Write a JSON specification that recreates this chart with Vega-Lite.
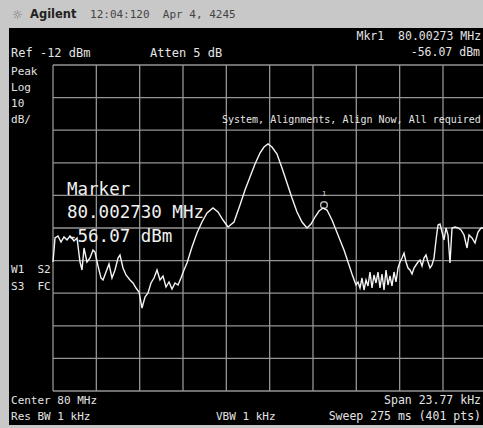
{
  "$schema": "https://vega.github.io/schema/vega-lite/v6.json",
  "width": 474,
  "height": 397,
  "autosize": {"type": "none"},
  "padding": {"left": 9, "top": 28, "right": 0, "bottom": 3},
  "background": "#c8c8c8",
  "config": {"view": {"fill": "#000000", "stroke": null}},
  "datasets": {
    "gridV": [
      {"f": -11.885, "top": -12, "bottom": -112},
      {"f": -9.508, "top": -12, "bottom": -112},
      {"f": -7.131, "top": -12, "bottom": -112},
      {"f": -4.754, "top": -12, "bottom": -112},
      {"f": -2.377, "top": -12, "bottom": -112},
      {"f": 0, "top": -12, "bottom": -112},
      {"f": 2.377, "top": -12, "bottom": -112},
      {"f": 4.754, "top": -12, "bottom": -112},
      {"f": 7.131, "top": -12, "bottom": -112},
      {"f": 9.508, "top": -12, "bottom": -112}
    ],
    "gridH": [
      {"d": -12, "left": -11.885, "right": 11.885},
      {"d": -22, "left": -11.885, "right": 11.885},
      {"d": -32, "left": -11.885, "right": 11.885},
      {"d": -42, "left": -11.885, "right": 11.885},
      {"d": -52, "left": -11.885, "right": 11.885},
      {"d": -62, "left": -11.885, "right": 11.885},
      {"d": -72, "left": -11.885, "right": 11.885},
      {"d": -82, "left": -11.885, "right": 11.885},
      {"d": -92, "left": -11.885, "right": 11.885},
      {"d": -102, "left": -11.885, "right": 11.885},
      {"d": -112, "left": -11.885, "right": 11.885}
    ],
    "trace": [
      {"f": -11.885, "d": -72.43}, {"f": -11.775, "d": -65.07}, {"f": -11.611, "d": -64.45}, {"f": -11.446, "d": -66.29},
      {"f": -11.282, "d": -64.76}, {"f": -11.117, "d": -65.68}, {"f": -10.952, "d": -64.45}, {"f": -10.733, "d": -65.99},
      {"f": -10.568, "d": -65.07}, {"f": -10.404, "d": -72.43}, {"f": -10.294, "d": -74.88}, {"f": -10.184, "d": -68.14},
      {"f": -10.02, "d": -72.43}, {"f": -9.855, "d": -71.2}, {"f": -9.691, "d": -68.75}, {"f": -9.581, "d": -69.36},
      {"f": -9.417, "d": -73.66}, {"f": -9.252, "d": -77.34}, {"f": -9.142, "d": -77.95}, {"f": -8.978, "d": -75.5},
      {"f": -8.813, "d": -73.04}, {"f": -8.649, "d": -77.34}, {"f": -8.484, "d": -74.88}, {"f": -8.319, "d": -71.2},
      {"f": -8.21, "d": -70.28}, {"f": -8.045, "d": -74.27}, {"f": -7.881, "d": -76.42}, {"f": -7.661, "d": -77.95},
      {"f": -7.497, "d": -78.87}, {"f": -7.332, "d": -80.41}, {"f": -7.167, "d": -81.63}, {"f": -7.003, "d": -86.54},
      {"f": -6.838, "d": -83.17}, {"f": -6.674, "d": -81.94}, {"f": -6.509, "d": -78.87}, {"f": -6.345, "d": -77.34},
      {"f": -6.18, "d": -74.88}, {"f": -6.016, "d": -77.95}, {"f": -5.851, "d": -76.72}, {"f": -5.686, "d": -80.1},
      {"f": -5.522, "d": -78.56}, {"f": -5.357, "d": -80.71}, {"f": -5.193, "d": -78.87}, {"f": -5.028, "d": -79.49},
      {"f": -4.864, "d": -77.34}, {"f": -4.699, "d": -74.88}, {"f": -4.534, "d": -72.74}, {"f": -4.26, "d": -67.83},
      {"f": -3.986, "d": -63.53}, {"f": -3.712, "d": -60.16}, {"f": -3.437, "d": -57.4}, {"f": -3.108, "d": -55.87},
      {"f": -2.834, "d": -57.09}, {"f": -2.56, "d": -59.55}, {"f": -2.285, "d": -61.69}, {"f": -1.956, "d": -60.16},
      {"f": -1.627, "d": -54.95}, {"f": -1.353, "d": -50.34}, {"f": -1.079, "d": -46.36}, {"f": -0.804, "d": -42.37},
      {"f": -0.53, "d": -38.99}, {"f": -0.311, "d": -37.15}, {"f": -0.091, "d": -36.23}, {"f": 0.128, "d": -37.15},
      {"f": 0.403, "d": -39.3}, {"f": 0.677, "d": -43.6}, {"f": 0.951, "d": -48.2}, {"f": 1.225, "d": -52.8},
      {"f": 1.5, "d": -57.09}, {"f": 1.774, "d": -60.16}, {"f": 2.048, "d": -62.0}, {"f": 2.268, "d": -60.77},
      {"f": 2.487, "d": -58.63}, {"f": 2.706, "d": -56.79}, {"f": 2.926, "d": -55.87}, {"f": 3.145, "d": -56.48},
      {"f": 3.42, "d": -59.55}, {"f": 3.639, "d": -62.61}, {"f": 3.858, "d": -65.68}, {"f": 4.078, "d": -68.75},
      {"f": 4.297, "d": -72.43}, {"f": 4.516, "d": -76.11}, {"f": 4.736, "d": -79.49}, {"f": 4.846, "d": -78.56},
      {"f": 4.955, "d": -80.41}, {"f": 5.065, "d": -77.34}, {"f": 5.175, "d": -81.02}, {"f": 5.285, "d": -77.95},
      {"f": 5.395, "d": -79.79}, {"f": 5.504, "d": -75.5}, {"f": 5.614, "d": -80.41}, {"f": 5.724, "d": -76.42},
      {"f": 5.834, "d": -78.87}, {"f": 5.943, "d": -75.5}, {"f": 6.053, "d": -80.41}, {"f": 6.163, "d": -76.11},
      {"f": 6.273, "d": -81.02}, {"f": 6.382, "d": -74.88}, {"f": 6.492, "d": -79.49}, {"f": 6.602, "d": -76.72},
      {"f": 6.711, "d": -79.79}, {"f": 6.821, "d": -75.5}, {"f": 6.931, "d": -78.56}, {"f": 7.041, "d": -74.27},
      {"f": 7.15, "d": -72.43}, {"f": 7.26, "d": -71.2}, {"f": 7.37, "d": -69.67}, {"f": 7.48, "d": -72.43},
      {"f": 7.589, "d": -74.27}, {"f": 7.699, "d": -74.88}, {"f": 7.809, "d": -76.11}, {"f": 7.919, "d": -74.27},
      {"f": 8.028, "d": -73.35}, {"f": 8.138, "d": -72.43}, {"f": 8.248, "d": -71.82}, {"f": 8.358, "d": -73.66},
      {"f": 8.467, "d": -71.2}, {"f": 8.577, "d": -70.28}, {"f": 8.687, "d": -72.43}, {"f": 8.796, "d": -74.27},
      {"f": 8.906, "d": -73.35}, {"f": 9.016, "d": -71.2}, {"f": 9.126, "d": -65.68}, {"f": 9.235, "d": -61.08},
      {"f": 9.345, "d": -60.77}, {"f": 9.455, "d": -63.23}, {"f": 9.565, "d": -65.68}, {"f": 9.674, "d": -62.0},
      {"f": 9.784, "d": -64.15}, {"f": 9.894, "d": -72.74}, {"f": 10.003, "d": -62.0}, {"f": 10.168, "d": -61.69},
      {"f": 10.333, "d": -62.0}, {"f": 10.497, "d": -62.61}, {"f": 10.662, "d": -64.15}, {"f": 10.826, "d": -68.14},
      {"f": 10.936, "d": -64.15}, {"f": 11.1, "d": -65.07}, {"f": 11.265, "d": -66.6}, {"f": 11.43, "d": -63.23},
      {"f": 11.594, "d": -62.0}, {"f": 11.704, "d": -62.0}
    ]
  },
  "layer": [
    {
      "data": {"name": "gridV"},
      "mark": {"type": "rule", "color": "#959595", "strokeWidth": 1.3, "clip": false},
      "encoding": {
        "x": {"field": "f", "type": "quantitative", "axis": null, "scale": {"domain": [-14.299, 11.703], "nice": false, "zero": false}},
        "y": {"field": "top", "type": "quantitative", "axis": null, "scale": {"domain": [-122.43, -0.65], "nice": false, "zero": false}},
        "y2": {"field": "bottom"}
      }
    },
    {
      "data": {"name": "gridH"},
      "mark": {"type": "rule", "color": "#959595", "strokeWidth": 1.3, "clip": false},
      "encoding": {
        "y": {"field": "d", "type": "quantitative"},
        "x": {"field": "left", "type": "quantitative"},
        "x2": {"field": "right"}
      }
    },
    {
      "data": {"name": "trace"},
      "mark": {"type": "line", "color": "#f4f4f4", "strokeWidth": 1.4, "clip": false},
      "encoding": {
        "x": {"field": "f", "type": "quantitative"},
        "y": {"field": "d", "type": "quantitative"}
      }
    },
    {
      "data": {"values": [{"f": 2.981, "d": -54.95}]},
      "mark": {"type": "point", "shape": "circle", "size": 45, "filled": false, "stroke": "#ffffff", "strokeWidth": 1.5},
      "encoding": {
        "x": {"field": "f", "type": "quantitative"},
        "y": {"field": "d", "type": "quantitative"}
      }
    },
    {
      "data": {"values": [{"f": 2.981, "d": -51.6, "label": "1"}]},
      "mark": {"type": "text", "font": "DejaVu Sans Mono", "fontSize": 7, "color": "#e0e0e0", "align": "center", "baseline": "middle"},
      "encoding": {
        "x": {"field": "f", "type": "quantitative"},
        "y": {"field": "d", "type": "quantitative"},
        "text": {"field": "label"}
      }
    },
    {
      "data": {"values": [
        {"f": -14.189, "d": -8.32, "label": "Ref -12 dBm"},
        {"f": -6.564, "d": -8.32, "label": "Atten 5 dB"}
      ]},
      "mark": {"type": "text", "font": "DejaVu Sans Mono", "fontSize": 12, "color": "#e4e4e4", "align": "left", "baseline": "middle"},
      "encoding": {
        "x": {"field": "f", "type": "quantitative"},
        "y": {"field": "d", "type": "quantitative"},
        "text": {"field": "label"}
      }
    },
    {
      "data": {"values": [
        {"f": 11.6, "d": -3.41, "label": "Mkr1\u00a0\u00a080.00273 MHz"},
        {"f": 11.538, "d": -8.32, "label": "-56.07 dBm"}
      ]},
      "mark": {"type": "text", "font": "DejaVu Sans Mono", "fontSize": 11.5, "color": "#e4e4e4", "align": "right", "baseline": "middle"},
      "encoding": {
        "x": {"field": "f", "type": "quantitative"},
        "y": {"field": "d", "type": "quantitative"},
        "text": {"field": "label"}
      }
    },
    {
      "data": {"values": [
        {"f": -14.189, "d": -14.15, "label": "Peak"},
        {"f": -14.189, "d": -19.06, "label": "Log"},
        {"f": -14.189, "d": -23.96, "label": "10"},
        {"f": -14.189, "d": -28.87, "label": "dB/"},
        {"f": -14.189, "d": -74.88, "label": "W1\u00a0\u00a0S2"},
        {"f": -14.189, "d": -80.1, "label": "S3\u00a0\u00a0FC"},
        {"f": -14.189, "d": -115.07, "label": "Center 80 MHz"},
        {"f": -14.189, "d": -119.98, "label": "Res BW 1 kHz"},
        {"f": -2.944, "d": -119.98, "label": "VBW 1 kHz"}
      ]},
      "mark": {"type": "text", "font": "DejaVu Sans Mono", "fontSize": 11, "color": "#e4e4e4", "align": "left", "baseline": "middle"},
      "encoding": {
        "x": {"field": "f", "type": "quantitative"},
        "y": {"field": "d", "type": "quantitative"},
        "text": {"field": "label"}
      }
    },
    {
      "data": {"values": [
        {"f": 11.593, "d": -115.07, "label": "Span 23.77 kHz"},
        {"f": 11.593, "d": -119.98, "label": "Sweep 275 ms (401 pts)"}
      ]},
      "mark": {"type": "text", "font": "DejaVu Sans Mono", "fontSize": 11.5, "color": "#e4e4e4", "align": "right", "baseline": "middle"},
      "encoding": {
        "x": {"field": "f", "type": "quantitative"},
        "y": {"field": "d", "type": "quantitative"},
        "text": {"field": "label"}
      }
    },
    {
      "data": {"values": [
        {"f": -2.615, "d": -28.87, "label": "System, Alignments, Align Now, All required"}
      ]},
      "mark": {"type": "text", "font": "DejaVu Sans Mono", "fontSize": 10, "color": "#e4e4e4", "align": "left", "baseline": "middle"},
      "encoding": {
        "x": {"field": "f", "type": "quantitative"},
        "y": {"field": "d", "type": "quantitative"},
        "text": {"field": "label"}
      }
    },
    {
      "data": {"values": [
        {"f": -11.117, "d": -50.34, "label": "Marker"},
        {"f": -11.117, "d": -57.4, "label": "80.002730 MHz"},
        {"f": -11.117, "d": -64.76, "label": "-56.07 dBm"}
      ]},
      "mark": {"type": "text", "font": "DejaVu Sans Mono", "fontSize": 17.5, "color": "#f0f0f0", "align": "left", "baseline": "middle"},
      "encoding": {
        "x": {"field": "f", "type": "quantitative"},
        "y": {"field": "d", "type": "quantitative"},
        "text": {"field": "label"}
      }
    },
    {
      "data": {"values": [{"f": -14.134, "d": 3.34, "label": "☼"}]},
      "mark": {"type": "text", "font": "DejaVu Sans", "fontSize": 12, "color": "#777777", "align": "left", "baseline": "middle"},
      "encoding": {
        "x": {"field": "f", "type": "quantitative"},
        "y": {"field": "d", "type": "quantitative"},
        "text": {"field": "label"}
      }
    },
    {
      "data": {"values": [{"f": -13.147, "d": 3.34, "label": "Agilent"}]},
      "mark": {"type": "text", "font": "DejaVu Sans", "fontSize": 11.5, "fontWeight": "bold", "color": "#222222", "align": "left", "baseline": "middle"},
      "encoding": {
        "x": {"field": "f", "type": "quantitative"},
        "y": {"field": "d", "type": "quantitative"},
        "text": {"field": "label"}
      }
    },
    {
      "data": {"values": [{"f": -9.855, "d": 3.34, "label": "12:04:120\u00a0\u00a0Apr 4, 4245"}]},
      "mark": {"type": "text", "font": "DejaVu Sans Mono", "fontSize": 11, "color": "#444444", "align": "left", "baseline": "middle"},
      "encoding": {
        "x": {"field": "f", "type": "quantitative"},
        "y": {"field": "d", "type": "quantitative"},
        "text": {"field": "label"}
      }
    }
  ]
}
